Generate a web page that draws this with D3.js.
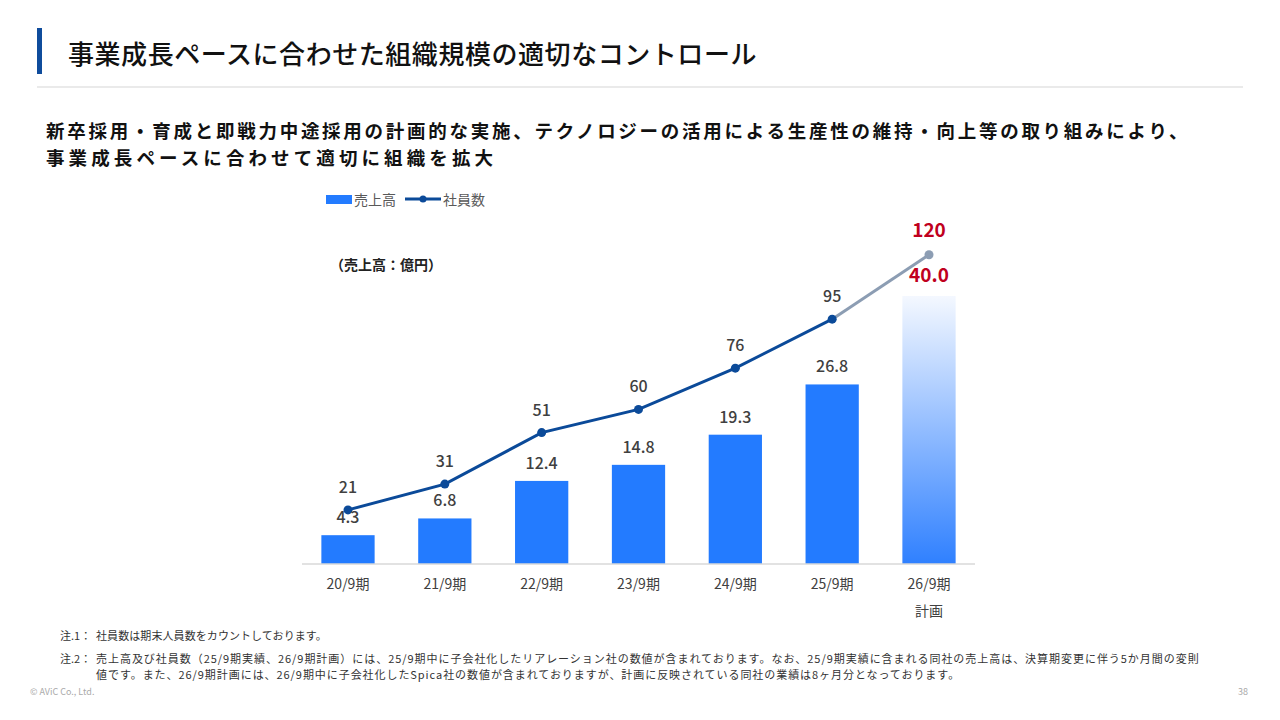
<!DOCTYPE html>
<html><head><meta charset="utf-8">
<script src="https://cdn.jsdelivr.net/npm/d3@7"></script>
<style>
body{margin:0;background:#fff;}
svg{font-family:"Noto Sans CJK JP","Noto Sans",sans-serif;}
</style></head>
<body><svg id="c" width="1280" height="720"></svg>
<script>
const categories = ["20/9期","21/9期","22/9期","23/9期","24/9期","25/9期","26/9期"];
const subLabels = ["","","","","","","計画"];
const sales = [4.3, 6.8, 12.4, 14.8, 19.3, 26.8, 40.0];
const employees = [21, 31, 51, 60, 76, 95, 120];
const salesLabels = ["4.3","6.8","12.4","14.8","19.3","26.8","40.0"];
const planIndex = 6;

const svg = d3.select("#c");

// fit text to a target width by letter-spacing
function fit(sel, width){
  const n = sel.text().length;
  const w = sel.node().getComputedTextLength();
  const ls = (width - w) / n;
  sel.attr("letter-spacing", ls.toFixed(2));
  return sel;
}

// header
svg.append("rect").attr("x",37).attr("y",28).attr("width",5).attr("height",46).attr("fill","#0F4C9C");
fit(svg.append("text").attr("x",68).attr("y",64).attr("font-size",26).attr("font-weight",500).attr("fill","#111")
  .text("事業成長ペースに合わせた組織規模の適切なコントロール"), 689);
svg.append("line").attr("x1",37).attr("x2",1243).attr("y1",87).attr("y2",87).attr("stroke","#e3e3e3").attr("stroke-width",1.5);
fit(svg.append("text").attr("x",46).attr("y",138).attr("font-size",18.5).attr("font-weight",700).attr("fill","#111")
  .text("新卒採用・育成と即戦力中途採用の計画的な実施、テクノロジーの活用による生産性の維持・向上等の取り組みにより、"), 1144);
fit(svg.append("text").attr("x",46).attr("y",165).attr("font-size",18.5).attr("font-weight",700).attr("fill","#111")
  .text("事業成長ペースに合わせて適切に組織を拡大"), 451);

// scales
const x = d3.scaleBand().domain(categories).range([302, 975]).paddingInner(0.45).paddingOuter(0.2);
const ySales = d3.scaleLinear().domain([0, 45]).range([564, 262.5]);
const yEmp = d3.scaleLinear().domain([0, 117]).range([564, 262.5]);

const defs = svg.append("defs");
const g = defs.append("linearGradient").attr("id","plan").attr("x1",0).attr("x2",0).attr("y1",0).attr("y2",1);
g.append("stop").attr("offset","0%").attr("stop-color","#F4F8FF");
g.append("stop").attr("offset","100%").attr("stop-color","#2F80FF");

// bars
svg.selectAll("rect.bar").data(sales).join("rect").attr("class","bar")
  .attr("x",(d,i)=>x(categories[i]))
  .attr("width",x.bandwidth())
  .attr("y",d=>ySales(d))
  .attr("height",d=>ySales(0)-ySales(d))
  .attr("fill",(d,i)=> i===planIndex ? "url(#plan)" : "#237BFF");

// axis
const axis = svg.append("g").attr("transform","translate(0,564)").call(d3.axisBottom(x).tickSize(0).tickPadding(10));
axis.select(".domain").attr("stroke","#d9d9d9").attr("stroke-width",1.5).attr("d","M302,0H975");
axis.selectAll(".tick text").attr("font-size",14).attr("fill","#404040").attr("font-family","\"Noto Sans CJK JP\",sans-serif").attr("dy","1.1em");
svg.selectAll("text.sub").data(subLabels).join("text").attr("class","sub")
  .attr("x",(d,i)=>x(categories[i])+x.bandwidth()/2).attr("y",616)
  .attr("text-anchor","middle").attr("font-size",14).attr("fill","#404040").text(d=>d);

// line
const cx = i => x(categories[i]) + x.bandwidth()/2;
const line = d3.line().x((d,i)=>cx(i)).y(d=>yEmp(d));
svg.append("path").datum(employees.slice(0, planIndex))
  .attr("d",line).attr("fill","none").attr("stroke","#0B4A99").attr("stroke-width",3);
svg.append("path").datum([planIndex-1, planIndex])
  .attr("d",d3.line().x(i=>cx(i)).y(i=>yEmp(employees[i]))).attr("fill","none").attr("stroke","#8C9DB3").attr("stroke-width",3);
svg.selectAll("circle.pt").data(employees).join("circle").attr("class","pt")
  .attr("cx",(d,i)=>cx(i)).attr("cy",d=>yEmp(d)).attr("r",4.5)
  .attr("fill",(d,i)=> i===planIndex ? "#8C9DB3" : "#0B4A99");

// labels
svg.selectAll("text.sl").data(sales).join("text").attr("class","sl")
  .attr("x",(d,i)=>cx(i)).attr("y",(d,i)=> ySales(d) - (i===planIndex?14:12))
  .attr("text-anchor","middle")
  .attr("font-size",(d,i)=> i===planIndex?19:16).attr("font-weight",(d,i)=> i===planIndex?700:500)
  .attr("fill",(d,i)=> i===planIndex ? "#C0001E" : "#404040")
  .text((d,i)=>salesLabels[i]);
svg.selectAll("text.el").data(employees).join("text").attr("class","el")
  .attr("x",(d,i)=>cx(i)).attr("y",(d,i)=> yEmp(d) - (i===planIndex?18:17))
  .attr("text-anchor","middle")
  .attr("font-size",(d,i)=> i===planIndex?19:16).attr("font-weight",(d,i)=> i===planIndex?700:500)
  .attr("fill",(d,i)=> i===planIndex ? "#C0001E" : "#404040")
  .text(d=>d);

// unit
svg.append("text").attr("x",330).attr("y",270).attr("font-size",14).attr("font-weight",700).attr("fill","#222").text("（売上高：億円）");

// legend
svg.append("rect").attr("x",326).attr("y",195).attr("width",26).attr("height",9).attr("fill","#237BFF");
svg.append("text").attr("x",354).attr("y",205).attr("font-size",14).attr("fill","#595959").text("売上高");
svg.append("line").attr("x1",405).attr("x2",441).attr("y1",199).attr("y2",199).attr("stroke","#0B4A99").attr("stroke-width",3);
svg.append("circle").attr("cx",423).attr("cy",199).attr("r",3.5).attr("fill","#0B4A99");
svg.append("text").attr("x",443).attr("y",205).attr("font-size",14).attr("fill","#595959").text("社員数");

// notes
const nfs = 11;
svg.append("text").attr("x",60).attr("y",640).attr("font-size",nfs).attr("fill","#333").text("注.1：");
svg.append("text").attr("x",60).attr("y",663).attr("font-size",nfs).attr("fill","#333").text("注.2：");
fit(svg.append("text").attr("x",96).attr("y",640).attr("font-size",nfs).attr("fill","#333").text("社員数は期末人員数をカウントしております。"), 231);
fit(svg.append("text").attr("x",96).attr("y",663).attr("font-size",nfs).attr("fill","#333").text("売上高及び社員数（25/9期実績、26/9期計画）には、25/9期中に子会社化したリアレーション社の数値が含まれております。なお、25/9期実績に含まれる同社の売上高は、決算期変更に伴う5か月間の変則"), 1104);
fit(svg.append("text").attr("x",96).attr("y",679).attr("font-size",nfs).attr("fill","#333").text("値です。また、26/9期計画には、26/9期中に子会社化したSpica社の数値が含まれておりますが、計画に反映されている同社の業績は8ヶ月分となっております。"), 864);
svg.append("text").attr("x",30).attr("y",695).attr("font-size",9).attr("fill","#aaa").text("© AViC Co., Ltd.");
svg.append("text").attr("x",1248).attr("y",695).attr("font-size",9).attr("fill","#aaa").attr("text-anchor","end").text("38");
</script></body></html>
